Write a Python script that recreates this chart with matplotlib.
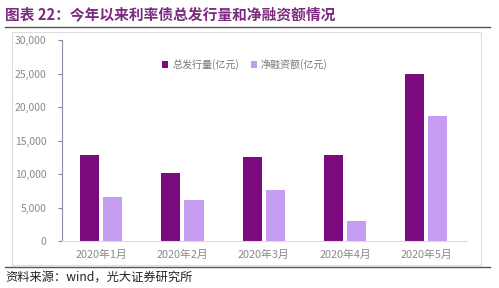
import numpy as np
import matplotlib.pyplot as plt
from matplotlib.lines import Line2D
from matplotlib.patches import Rectangle

plt.rcParams['font.family'] = ['Noto Sans CJK SC', 'DejaVu Sans']

months = ['2020年1月', '2020年2月', '2020年3月', '2020年4月', '2020年5月']
total_issue = [12800, 10100, 12500, 12800, 24900]
net_finance = [6600, 6100, 7600, 3000, 18700]
series_names = ['总发行量(亿元)', '净融资额(亿元)']
yticks = [0, 5000, 10000, 15000, 20000, 25000, 30000]

dark = '#7a0a7e'
light = '#c59cf0'

fig = plt.figure(figsize=(4.99, 2.88), dpi=100)

# frame lines / box
fig.add_artist(Line2D([5/499, 490/499], [1-27/288, 1-27/288], color='#555555', lw=1.0))
fig.add_artist(Line2D([5/499, 490/499], [1-267/288, 1-267/288], color='#555555', lw=1.0))
fig.add_artist(Rectangle((12/499, 1-265/288), (481-12)/499, (265-32)/288,
                         fill=False, edgecolor='#dddddd', lw=0.8))

fig.text(5/499, 1-14/288, '图表 22：今年以来利率债总发行量和净融资额情况',
         color='#7b2a80', fontsize=10.6, fontweight='bold', va='center', ha='left')
fig.text(5/499, 1-277/288, '资料来源：wind，光大证券研究所',
         color='#222222', fontsize=8.8, va='center', ha='left')

ax = fig.add_axes([62/499, 1-241/288, (467-62)/499, (241-40)/288])
x = np.arange(len(months))
w = 0.235
ax.bar(x - w/2 - 0.025, total_issue, w, color=dark, label=series_names[0])
ax.bar(x + w/2 + 0.025, net_finance, w, color=light, label=series_names[1])

ax.set_xlim(-0.48, 4.5)
ax.set_ylim(0, 30000)
ax.set_yticks(yticks)
ax.set_yticklabels([f'{v:,}' for v in yticks])
ax.set_xticks(x)
ax.set_xticklabels(months)
ax.tick_params(axis='y', labelsize=7.5, colors='#8a8a8a', length=3, pad=8)
ax.tick_params(axis='x', labelsize=7.8, colors='#8a8a8a', length=0, pad=6)
for s in ['top', 'right']:
    ax.spines[s].set_visible(False)
ax.spines['left'].set_color('#8c8ca8')
ax.spines['left'].set_linewidth(0.8)
ax.spines['bottom'].set_color('#dddddd')

ax.legend(loc='upper left', bbox_to_anchor=(0.225, 0.95), ncol=2, frameon=False,
          fontsize=7.2, labelcolor='#777777', handlelength=0.6, handleheight=0.6,
          handletextpad=0.4, columnspacing=1.2)

fig.savefig('out.png', dpi=100)
